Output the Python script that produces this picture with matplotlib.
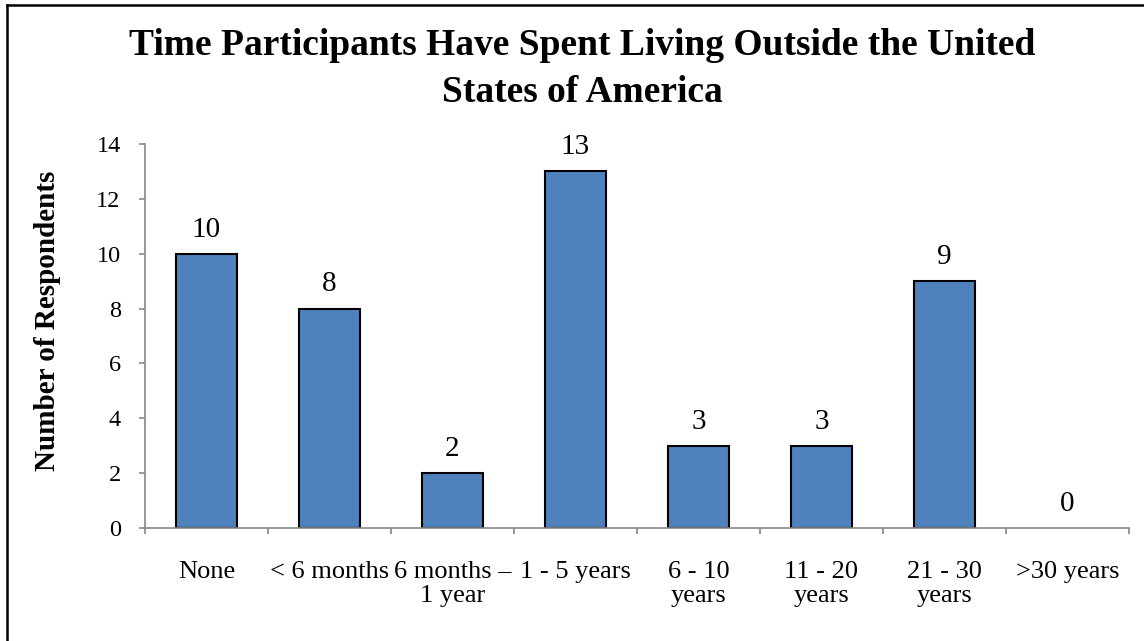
import matplotlib
matplotlib.use('Agg')
import matplotlib.pyplot as plt
from matplotlib.lines import Line2D
import numpy as np

categories = ['None', '< 6 months', '6 months \u2013\n1 year', '1 - 5 years',
              '6 - 10\nyears', '11 - 20\nyears', '21 - 30\nyears', '>30 years']
respondents = [10, 8, 2, 13, 3, 3, 9, 0]
yticks = [0, 2, 4, 6, 8, 10, 12, 14]
title_lines = ['Time Participants Have Spent Living Outside the United', 'States of America']

plt.rcParams['font.family'] = ['Liberation Serif', 'DejaVu Serif']

fig = plt.figure(figsize=(11.44, 6.41), dpi=100)
ax = fig.add_axes([0.1267, 0.1763, 0.8602, 0.5991])

x = np.arange(len(categories))
edges = ['black' if v > 0 else 'none' for v in respondents]
ax.bar(x, respondents, width=0.5, color='#4F81BD', edgecolor=edges, linewidth=1.5)

for xi, v in zip(x, respondents):
    ax.annotate(str(v), (xi, v), xytext=(0, 8), textcoords='offset points',
                ha='center', va='bottom', fontsize=21)

ax.set_xlim(-0.5, len(categories) - 0.5)
ax.set_ylim(0, 14)
ax.set_yticks(yticks)
ax.set_xticks(x)
ax.set_xticklabels(categories, fontsize=19)
for lbl in ax.get_xticklabels():
    lbl.set_linespacing(1.1)
ax.set_xticks(np.arange(-0.5, len(categories)), minor=True)
ax.tick_params(axis='x', which='major', length=0, pad=24)
ax.tick_params(axis='x', which='minor', length=4.5, width=1.2, color='#888888', direction='out')
ax.tick_params(axis='y', length=4.5, width=1.2, color='#888888', direction='out', pad=13, labelsize=17.5)

for s in ['top', 'right']:
    ax.spines[s].set_visible(False)
for s in ['left', 'bottom']:
    ax.spines[s].set_color('#888888')
    ax.spines[s].set_linewidth(1.2)

ax.set_ylabel('Number of Respondents', fontsize=21, fontweight='bold')
ax.yaxis.set_label_coords(61 / 1144, 0.5, transform=fig.transFigure)

fig.text(0.509, 1 - 55 / 641, title_lines[0], ha='center', va='baseline',
         fontsize=27, fontweight='bold')
fig.text(0.509, 1 - 102 / 641, title_lines[1], ha='center', va='baseline',
         fontsize=27, fontweight='bold')

# chart border (left and top edges visible)
fig.add_artist(Line2D([0.0061, 0.0061], [0, 0.992], transform=fig.transFigure, color='black', lw=1.8))
fig.add_artist(Line2D([0.0061, 1.0], [0.992, 0.992], transform=fig.transFigure, color='black', lw=1.8))

fig.savefig('out.png', dpi=100)
